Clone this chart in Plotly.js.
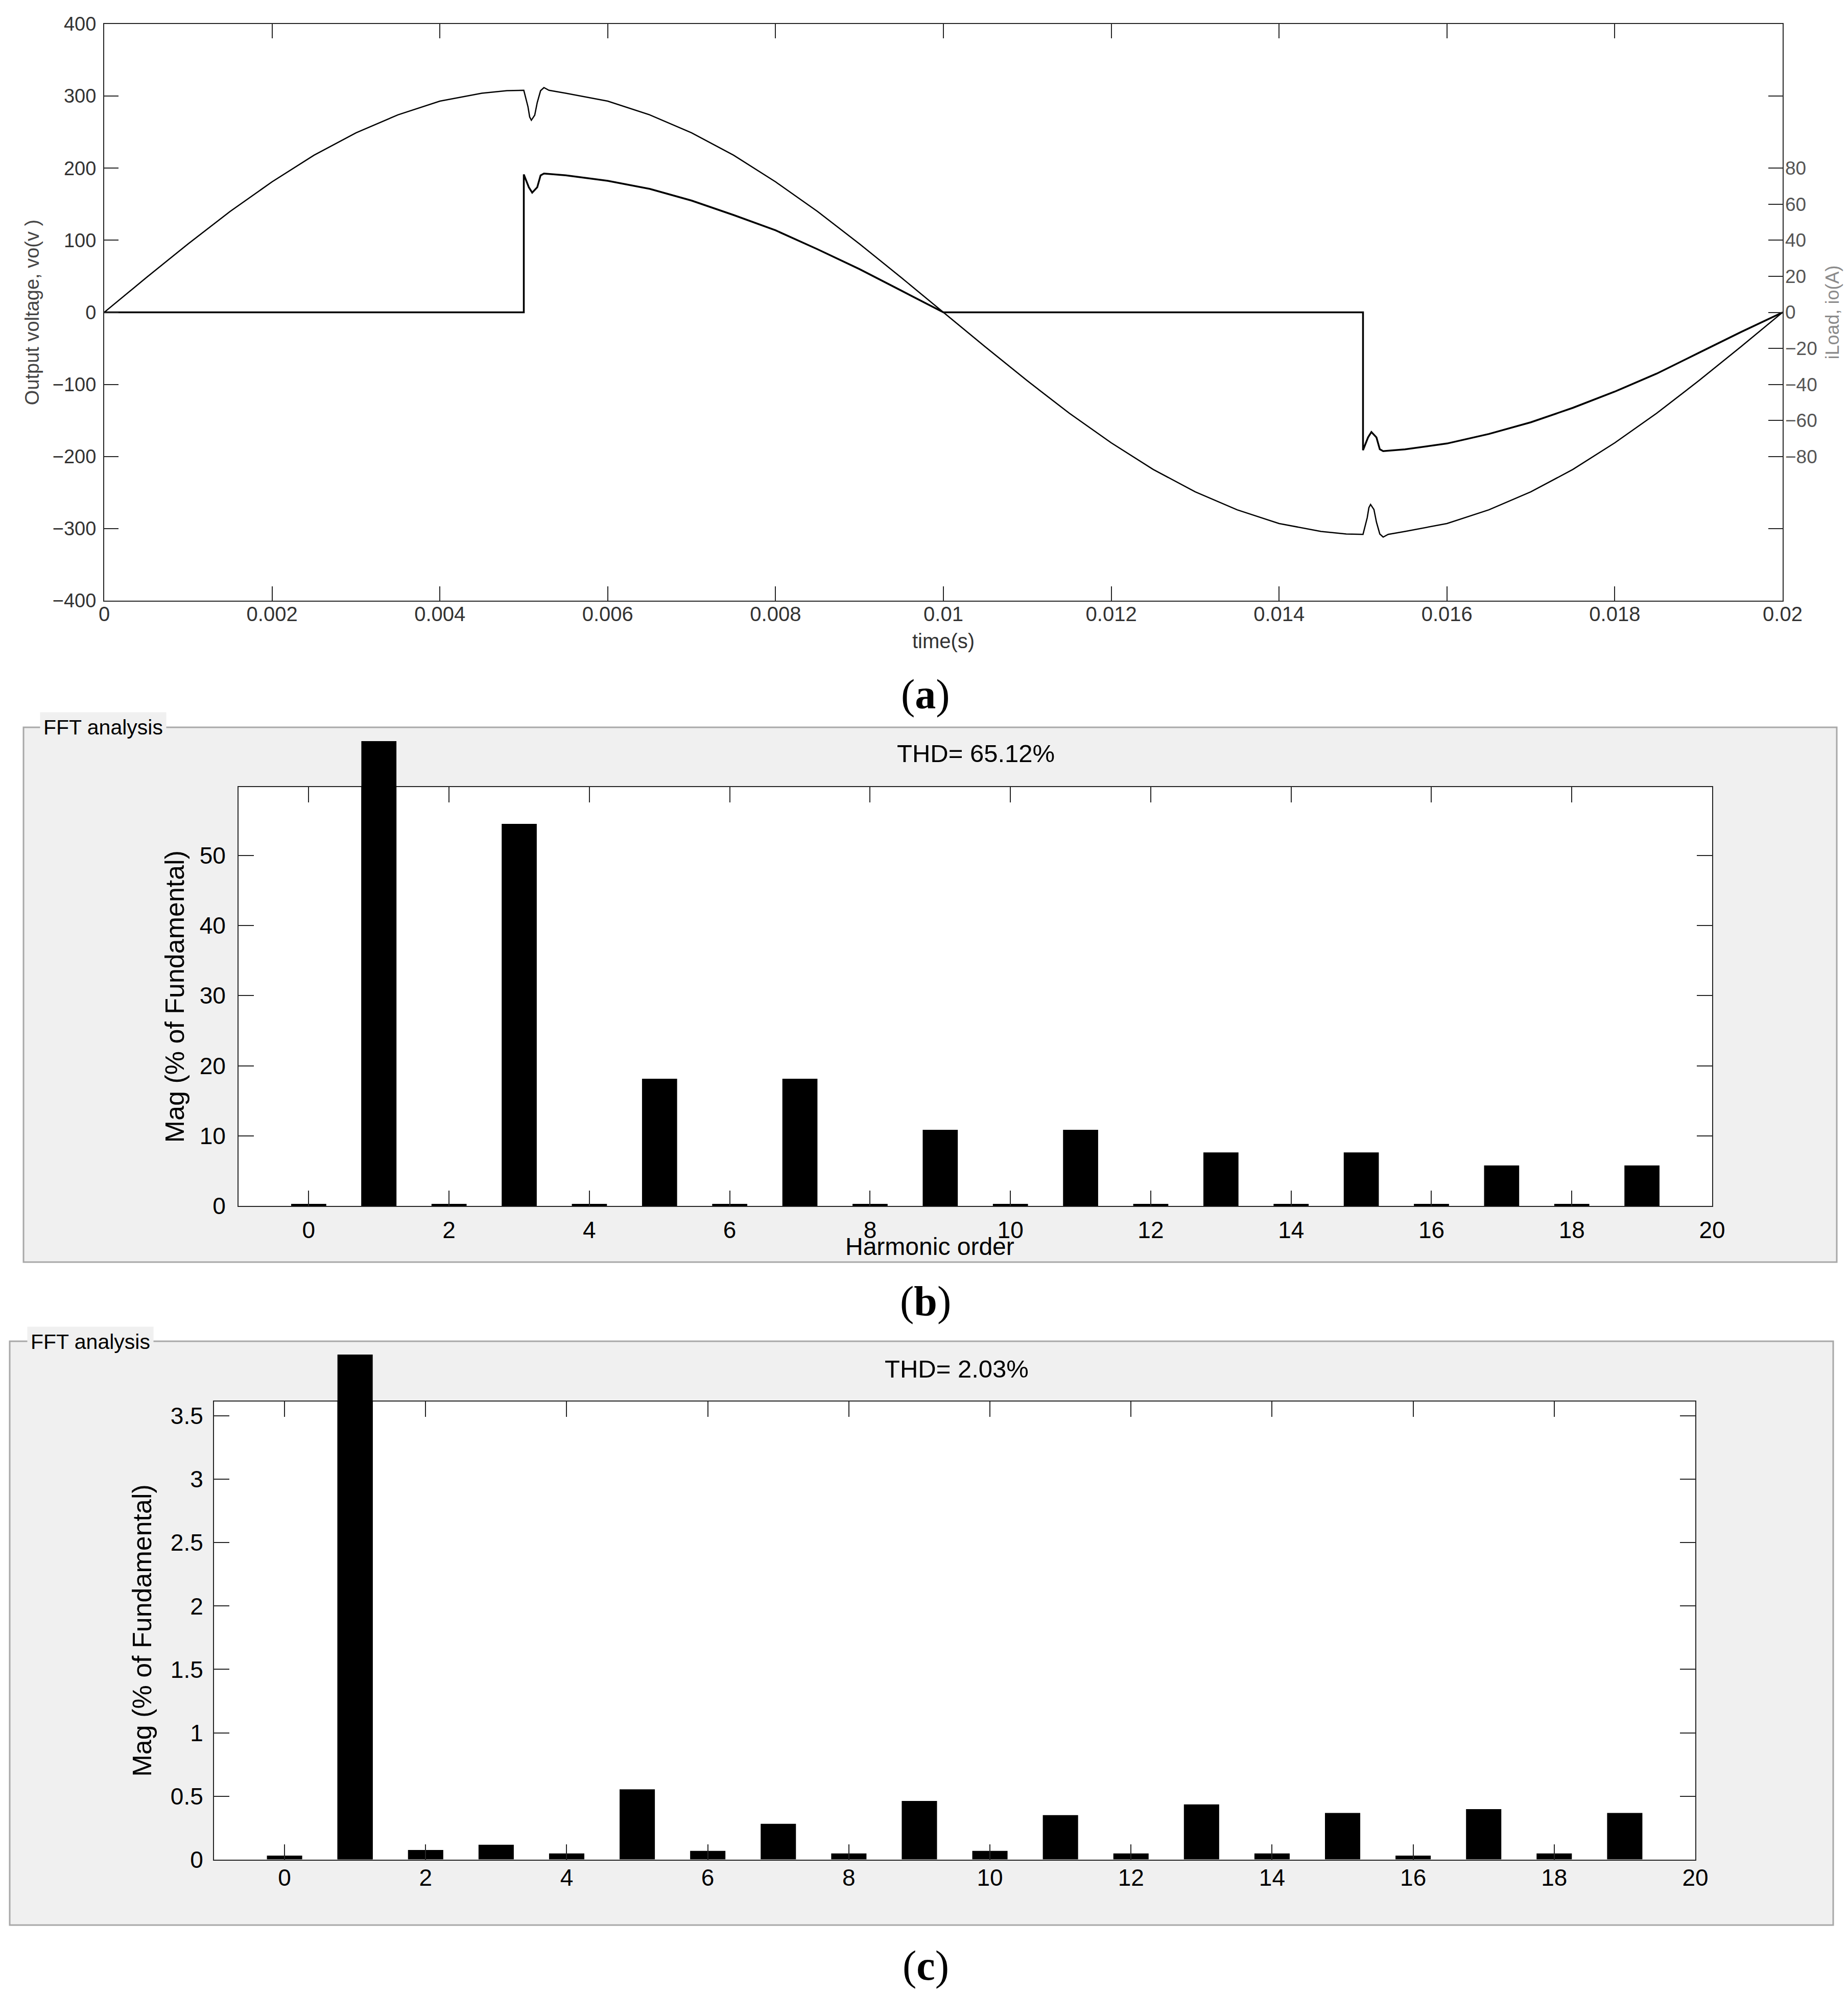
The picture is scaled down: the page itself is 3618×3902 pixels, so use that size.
<!DOCTYPE html>
<html>
<head>
<meta charset="utf-8">
<script src="https://cdn.plot.ly/plotly-3.0.1.min.js"></script>
<style>
html,body{margin:0;padding:0;background:#ffffff;}
#chart{width:3618px;height:3902px;}
</style>
</head>
<body>
<div id="chart"></div>
<script>
// ---------------- DATA ----------------
// (a) output voltage vo (V) vs time (s)
const timeV = [0,0.0005,0.001,0.0015,0.002,0.0025,0.003,0.0035,0.004,0.0045,0.0048,0.005,
  0.00505,0.00507,0.00509,0.00513,0.00516,0.0052,0.00524,0.0053,0.0055,
  0.006,0.0065,0.007,0.0075,0.008,0.0085,0.009,0.0095,0.01,0.0105,0.011,0.0115,0.012,0.0125,0.013,0.0135,0.014,0.0145,
  0.0148,0.015,0.01505,0.01507,0.01509,0.01513,0.01516,0.0152,0.01524,0.0153,0.0155,
  0.016,0.0165,0.017,0.0175,0.018,0.0185,0.019,0.0195,0.02];
const voltage = [0,48,95,140,181,218,249,274,293,304,307.5,308,
  285,271,266.5,273.5,291,307.5,311.8,308,304,
  293,274,249,218,181,140,95,48,0,-48,-95,-140,-181,-218,-249,-274,-293,-304,
  -307.5,-308,-285,-271,-266.5,-273.5,-291,-307.5,-311.8,-308,-304,
  -293,-274,-249,-218,-181,-140,-95,-48,0];

// (a) load current io (A) vs time (s)
const timeI = [0,0.005,0.005,0.00506,0.0051,0.00516,0.0052,0.00524,0.0055,
  0.006,0.0065,0.007,0.0075,0.008,0.0085,0.009,0.0095,0.01,
  0.015,0.015,0.01506,0.0151,0.01516,0.0152,0.01524,0.0155,
  0.016,0.0165,0.017,0.0175,0.018,0.0185,0.019,0.0195,0.02];
const current = [0,0,76.5,69.4,66.4,69.4,76,77,76,
  73,68.5,62,54,45.5,35,24,12,0,
  0,-76.5,-69.4,-66.4,-69.4,-76,-77,-76,
  -72.8,-67.5,-61,-53,-44,-34,-22.5,-11,0];

const timeTicks = [0,0.002,0.004,0.006,0.008,0.01,0.012,0.014,0.016,0.018,0.02];
const timeTickText = ['0','0.002','0.004','0.006','0.008','0.01','0.012','0.014','0.016','0.018','0.02'];
const voltTicks = [-400,-300,-200,-100,0,100,200,300,400];
const currentTicks = [-80,-60,-40,-20,0,20,40,60,80];

// (b), (c) harmonic spectra (% of fundamental)
const harmonicOrder = [0,1,2,3,4,5,6,7,8,9,10,11,12,13,14,15,16,17,18,19];
const magB = [0.3,100,0.3,54.5,0.3,18.15,0.3,18.15,0.3,10.85,0.3,10.85,0.3,7.63,0.3,7.63,0.3,5.78,0.3,5.78];
const magC = [0.031,100,0.075,0.116,0.048,0.554,0.068,0.282,0.048,0.462,0.068,0.35,0.048,0.435,0.048,0.367,0.031,0.397,0.048,0.367];
const harmonicTicks = [0,2,4,6,8,10,12,14,16,18,20];
const magBTicks = [0,10,20,30,40,50];
const magCTicks = [0,0.5,1,1.5,2,2.5,3,3.5];
const magCTickText = ['0','0.5','1','1.5','2','2.5','3','3.5'];
const thdB = 'THD= 65.12%';
const thdC = 'THD= 2.03%';

// ---------------- LAYOUT HELPERS ----------------
const W = 3618, H = 3902;
const fx = p => p / W;
const fy = p => 1 - p / H;
const SANS = 'Liberation Sans, Arial, sans-serif';
const SERIF = 'Liberation Serif, Times New Roman, serif';

const A = {l:204, r:3490, t:47, b:1176};
const B = {l:467, r:3352, t:1541, b:2361, barTop:1451, panel:{l:46, r:3596, t:1424, b:2471}};
const C = {l:419, r:3319, t:2744, b:3640.6, barTop:2652, panel:{l:19, r:3589, t:2626, b:3769}};
const rangeBTop = 59.75, rangeCTop = 3.614;

function frame(extra) {
  return Object.assign({
    showline:true, linecolor:'#262626', linewidth:2, mirror:'ticks',
    ticks:'inside', ticklen:28, tickwidth:2, tickcolor:'#262626',
    showgrid:false, zeroline:false, fixedrange:true
  }, extra);
}
function hidden(extra) {
  return Object.assign({visible:false, showgrid:false, zeroline:false, fixedrange:true}, extra);
}

const traces = [
  {type:'scatter', mode:'lines', x:timeV, y:voltage, xaxis:'x', yaxis:'y',
   line:{color:'#000000', width:2.5}, hoverinfo:'skip'},
  {type:'scatter', mode:'lines', x:timeI, y:current, xaxis:'x', yaxis:'y2',
   line:{color:'#000000', width:3.5}, hoverinfo:'skip'},
  {type:'bar', x:harmonicOrder, y:magB, xaxis:'x2', yaxis:'y3', width:0.5,
   marker:{color:'#000000', line:{width:0}}, hoverinfo:'skip'},
  {type:'bar', x:[harmonicOrder[1]], y:[magB[1]], xaxis:'x3', yaxis:'y4', width:0.5,
   marker:{color:'#000000', line:{width:0}}, hoverinfo:'skip'},
  {type:'bar', x:harmonicOrder, y:magC, xaxis:'x4', yaxis:'y5', width:0.5,
   marker:{color:'#000000', line:{width:0}}, hoverinfo:'skip'},
  {type:'bar', x:[harmonicOrder[1]], y:[magC[1]], xaxis:'x5', yaxis:'y6', width:0.5,
   marker:{color:'#000000', line:{width:0}}, hoverinfo:'skip'}
];

const layout = {
  width:W, height:H,
  margin:{l:0, r:0, t:0, b:0, pad:0},
  paper_bgcolor:'#ffffff',
  plot_bgcolor:'rgba(0,0,0,0)',
  showlegend:false,
  hovermode:false,
  font:{family:SANS, color:'#000000'},

  // ---- (a) ----
  xaxis: frame({domain:[fx(A.l), fx(A.r)], anchor:'y', range:[0,0.02],
    tickmode:'array', tickvals:timeTicks, ticktext:timeTickText,
    tickfont:{family:SANS, size:40, color:'#333333'}, ticklabelstandoff:-10,
    title:{text:'time(s)', font:{family:SANS, size:40, color:'#333333'}, standoff:18}}),
  yaxis: frame({domain:[fy(A.b), fy(A.t)], anchor:'x', range:[-400,400],
    tickmode:'array', tickvals:voltTicks,
    tickfont:{family:SANS, size:38, color:'#333333'}, ticklabelstandoff:6,
    title:{text:'Output voltage, vo(v )', font:{family:SANS, size:38, color:'#444444'}, standoff:15}}),
  yaxis2: {overlaying:'y', side:'right', anchor:'x', range:[-160,160],
    tickmode:'array', tickvals:currentTicks,
    ticks:'inside', ticklen:28, tickwidth:2, tickcolor:'#262626',
    showline:false, showgrid:false, zeroline:false, fixedrange:true,
    tickfont:{family:SANS, size:37, color:'#555555'}, ticklabelstandoff:4,
    title:{text:'iLoad, io(A)', font:{family:SANS, size:36, color:'#8a8a8a'}, standoff:18}},

  // ---- (b) ----
  xaxis2: frame({domain:[fx(B.l), fx(B.r)], anchor:'y3', range:[-1,20], ticklen:30,
    tickmode:'array', tickvals:harmonicTicks,
    tickfont:{family:SANS, size:46, color:'#000000'}, ticklabelstandoff:6}),
  yaxis3: frame({domain:[fy(B.b), fy(B.t)], anchor:'x2', range:[0,rangeBTop], ticklen:30,
    tickmode:'array', tickvals:magBTicks,
    tickfont:{family:SANS, size:46, color:'#000000'}, ticklabelstandoff:14,
    title:{text:'Mag (% of Fundamental)', font:{family:SANS, size:52, color:'#000000'}, standoff:13}}),
  xaxis3: hidden({domain:[fx(B.l), fx(B.r)], anchor:'y4', range:[-1,20]}),
  yaxis4: hidden({domain:[fy(B.b), fy(B.barTop)], anchor:'x3',
    range:[0, rangeBTop * (B.b - B.barTop) / (B.b - B.t)]}),

  // ---- (c) ----
  xaxis4: frame({domain:[fx(C.l), fx(C.r)], anchor:'y5', range:[-1,20], ticklen:30,
    tickmode:'array', tickvals:harmonicTicks,
    tickfont:{family:SANS, size:46, color:'#000000'}, ticklabelstandoff:-6}),
  yaxis5: frame({domain:[fy(C.b), fy(C.t)], anchor:'x4', range:[0,rangeCTop], ticklen:30,
    tickmode:'array', tickvals:magCTicks, ticktext:magCTickText,
    tickfont:{family:SANS, size:46, color:'#000000'}, ticklabelstandoff:10,
    title:{text:'Mag (% of Fundamental)', font:{family:SANS, size:52, color:'#000000'}, standoff:21}}),
  xaxis5: hidden({domain:[fx(C.l), fx(C.r)], anchor:'y6', range:[-1,20]}),
  yaxis6: hidden({domain:[fy(C.b), fy(C.barTop)], anchor:'x5',
    range:[0, rangeCTop * (C.b - C.barTop) / (C.b - C.t)]}),

  shapes: [
    {type:'rect', xref:'paper', yref:'paper', layer:'below',
     x0:fx(B.panel.l), x1:fx(B.panel.r), y0:fy(B.panel.b), y1:fy(B.panel.t),
     fillcolor:'#f0f0f0', line:{color:'#a8a8a8', width:3}},
    {type:'rect', xref:'paper', yref:'paper', layer:'below',
     x0:fx(B.l), x1:fx(B.r), y0:fy(B.b), y1:fy(B.t),
     fillcolor:'#ffffff', line:{width:0}},
    {type:'rect', xref:'paper', yref:'paper', layer:'below',
     x0:fx(C.panel.l), x1:fx(C.panel.r), y0:fy(C.panel.b), y1:fy(C.panel.t),
     fillcolor:'#f0f0f0', line:{color:'#a8a8a8', width:3}},
    {type:'rect', xref:'paper', yref:'paper', layer:'below',
     x0:fx(C.l), x1:fx(C.r), y0:fy(C.b), y1:fy(C.t),
     fillcolor:'#ffffff', line:{width:0}}
  ],

  annotations: [
    {text:'FFT analysis', xref:'paper', yref:'paper', x:fx(78), y:fy(1424),
     xanchor:'left', yanchor:'middle', showarrow:false, bgcolor:'#f0f0f0', borderpad:6,
     font:{family:SANS, size:41, color:'#000000'}},
    {text:thdB, xref:'paper', yref:'paper', x:fx(1910), y:fy(1475),
     xanchor:'center', yanchor:'middle', showarrow:false,
     font:{family:SANS, size:49, color:'#000000'}},
    {text:'Harmonic order', xref:'paper', yref:'paper', x:fx(1820), y:fy(2440),
     xanchor:'center', yanchor:'middle', showarrow:false,
     font:{family:SANS, size:48, color:'#000000'}},
    {text:'FFT analysis', xref:'paper', yref:'paper', x:fx(53), y:fy(2627),
     xanchor:'left', yanchor:'middle', showarrow:false, bgcolor:'#f0f0f0', borderpad:6,
     font:{family:SANS, size:41, color:'#000000'}},
    {text:thdC, xref:'paper', yref:'paper', x:fx(1873), y:fy(2680),
     xanchor:'center', yanchor:'middle', showarrow:false,
     font:{family:SANS, size:49, color:'#000000'}},
    {text:'(<b>a</b>)', xref:'paper', yref:'paper', x:fx(1812), y:fy(1359),
     xanchor:'center', yanchor:'middle', showarrow:false,
     font:{family:SERIF, size:82, color:'#000000'}},
    {text:'(<b>b</b>)', xref:'paper', yref:'paper', x:fx(1812), y:fy(2547),
     xanchor:'center', yanchor:'middle', showarrow:false,
     font:{family:SERIF, size:82, color:'#000000'}},
    {text:'(<b>c</b>)', xref:'paper', yref:'paper', x:fx(1812), y:fy(3848),
     xanchor:'center', yanchor:'middle', showarrow:false,
     font:{family:SERIF, size:82, color:'#000000'}}
  ]
};

Plotly.newPlot('chart', traces, layout, {displayModeBar:false, staticPlot:true});
</script>
</body>
</html>
